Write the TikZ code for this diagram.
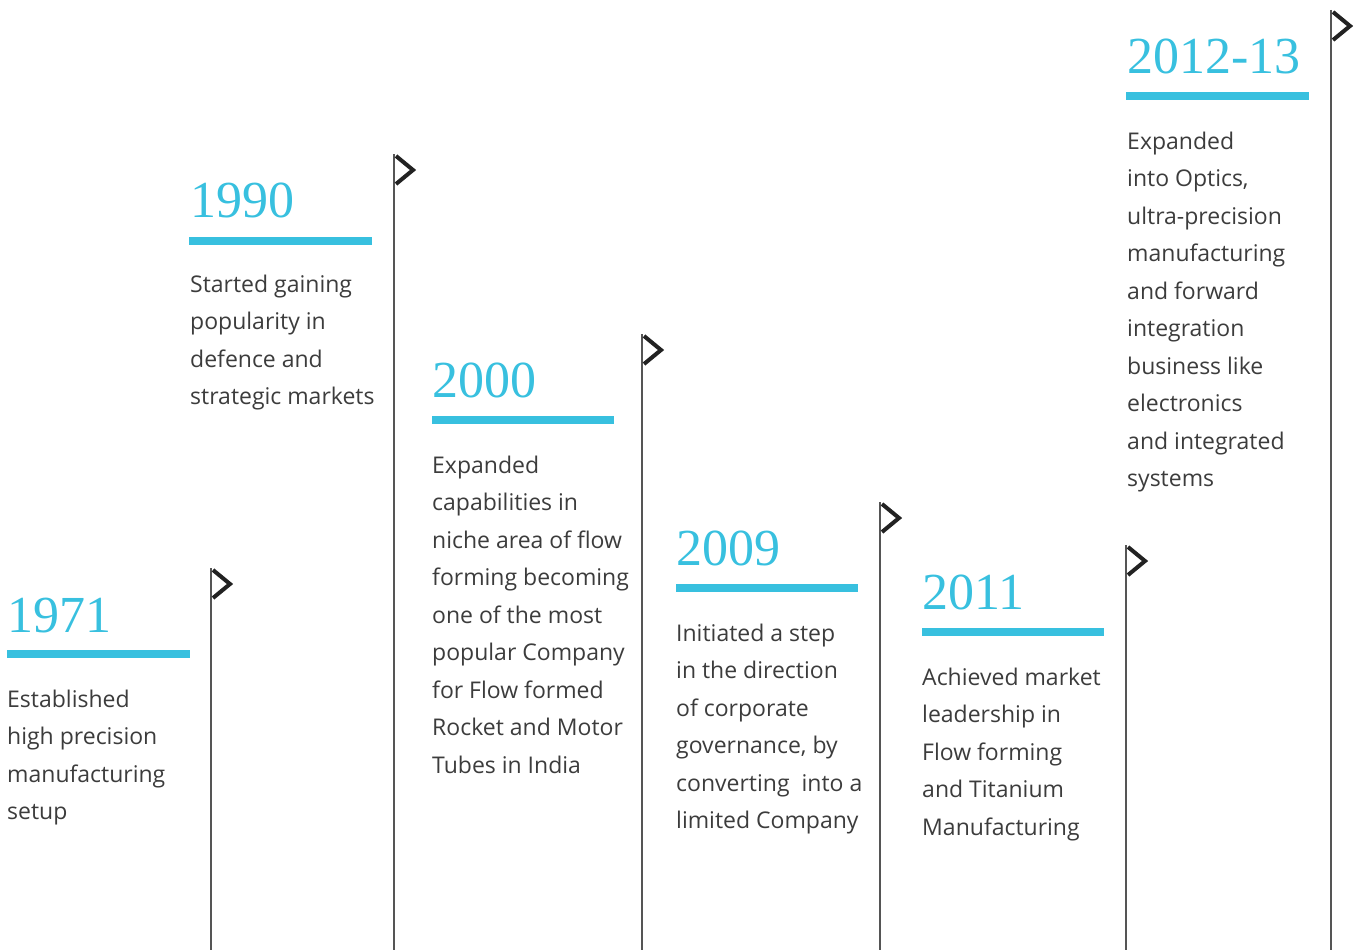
\documentclass[tikz,border=0pt]{standalone}
\usepackage{fontspec}
\setmainfont{Open Sans}
\newfontfamily\yearfont{Liberation Serif}
\usepackage{xcolor}
\usetikzlibrary{positioning}

\definecolor{yearblue}{HTML}{38C0DF}
\definecolor{bodygray}{HTML}{3C3C3C}
\definecolor{polegray}{HTML}{555555}
\definecolor{flagdark}{HTML}{222222}

\begin{document}
\begin{tikzpicture}[
    x=1pt, y=-1pt,
    year/.style = {
        anchor=base west,
        inner sep=0pt,
        text=yearblue,
        font=\yearfont\fontsize{52}{52}\selectfont
    },
    % multi-line nodes: base = baseline of the last line
    body/.style = {
        anchor=base west,
        inner sep=0pt,
        align=left,
        text=bodygray,
        font=\fontsize{23}{37.5}\selectfont
    },
    bar/.style  = {draw=yearblue, line width=7.5pt},
    pole/.style = {draw=polegray, line width=1.5pt},
    flag/.style = {draw=flagdark, line width=4pt, line join=miter, line cap=butt},
]

\useasboundingbox (0,0) rectangle (1354,950);

% Column 1: 1971
\node[year] (y1971) at (7,632) {1971};
\coordinate (bar1971a) at (7,654);
\coordinate (bar1971b) at (190,654);
\draw[bar] (bar1971a) -- (bar1971b);
\node[body] (body1971) at (7,819.5) {
    Established\\
    high precision\\
    manufacturing\\
    setup
};
\coordinate (top1971) at (211,568);
\coordinate (foot1971) at (211,950);
\draw[pole] (top1971) -- (foot1971);
\draw[flag] ([xshift=2pt,yshift=-2pt]top1971) -- ++(17,14) -- ++(-17,14);

% Column 2: 1990
\node[year] (y1990) at (190,217) {1990};
\coordinate (bar1990a) at (189,241);
\coordinate (bar1990b) at (372,241);
\draw[bar] (bar1990a) -- (bar1990b);
\node[body] (body1990) at (190,404.5) {
    Started gaining\\
    popularity in\\
    defence and\\
    strategic markets
};
\coordinate (top1990) at (394,154);
\coordinate (foot1990) at (394,950);
\draw[pole] (top1990) -- (foot1990);
\draw[flag] ([xshift=2pt,yshift=-2pt]top1990) -- ++(17,14) -- ++(-17,14);

% Column 3: 2000
\node[year] (y2000) at (432,397) {2000};
\coordinate (bar2000a) at (432,420);
\coordinate (bar2000b) at (614,420);
\draw[bar] (bar2000a) -- (bar2000b);
\node[body] (body2000) at (432,773) {
    Expanded\\
    capabilities in\\
    niche area of flow\\
    forming becoming\\
    one of the most\\
    popular Company\\
    for Flow formed\\
    Rocket and Motor\\
    Tubes in India
};
\coordinate (top2000) at (642,334);
\coordinate (foot2000) at (642,950);
\draw[pole] (top2000) -- (foot2000);
\draw[flag] ([xshift=2pt,yshift=-2pt]top2000) -- ++(17,14) -- ++(-17,14);

% Column 4: 2009
\node[year] (y2009) at (676,565) {2009};
\coordinate (bar2009a) at (676,588);
\coordinate (bar2009b) at (858,588);
\draw[bar] (bar2009a) -- (bar2009b);
\node[body] (body2009) at (676,828.5) {
    Initiated a step\\
    in the direction\\
    of corporate\\
    governance, by\\
    converting\ \ into a\\
    limited Company
};
\coordinate (top2009) at (880,502);
\coordinate (foot2009) at (880,950);
\draw[pole] (top2009) -- (foot2009);
\draw[flag] ([xshift=2pt,yshift=-2pt]top2009) -- ++(17,14) -- ++(-17,14);

% Column 5: 2011
\node[year] (y2011) at (922,609) {2011};
\coordinate (bar2011a) at (922,632);
\coordinate (bar2011b) at (1104,632);
\draw[bar] (bar2011a) -- (bar2011b);
\node[body] (body2011) at (922,835) {
    Achieved market\\
    leadership in\\
    Flow forming\\
    and Titanium\\
    Manufacturing
};
\coordinate (top2011) at (1126,545);
\coordinate (foot2011) at (1126,950);
\draw[pole] (top2011) -- (foot2011);
\draw[flag] ([xshift=2pt,yshift=-2pt]top2011) -- ++(17,14) -- ++(-17,14);

% Column 6: 2012-13
\node[year] (y2012) at (1127,74) {2012-13};
\coordinate (bar2012a) at (1126,96);
\coordinate (bar2012b) at (1309,96);
\draw[bar] (bar2012a) -- (bar2012b);
\node[body] (body2012) at (1127,486.5) {
    Expanded\\
    into Optics,\\
    ultra-precision\\
    manufacturing\\
    and forward\\
    integration\\
    business like\\
    electronics\\
    and integrated\\
    systems
};
\coordinate (top2012) at (1331,10);
\coordinate (foot2012) at (1331,950);
\draw[pole] (top2012) -- (foot2012);
\draw[flag] ([xshift=2pt,yshift=-2pt]top2012) -- ++(17,14) -- ++(-17,14);

\end{tikzpicture}
\end{document}
